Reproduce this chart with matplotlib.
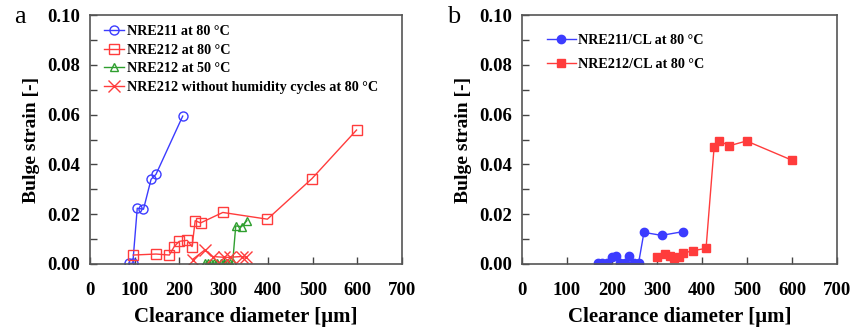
import matplotlib
matplotlib.use("Agg")
import matplotlib.pyplot as plt
from matplotlib.ticker import MultipleLocator

plt.rcParams['font.family'] = ['Liberation Serif', 'DejaVu Serif']

# panel a
nre211_x = [88, 96, 106, 120, 137, 148, 208]
nre211_y = [0.0003, 0.0003, 0.0224, 0.022, 0.034, 0.036, 0.0594]

nre212_x = [97, 148, 178, 189, 200, 218, 229, 236, 248, 298, 398, 498, 598]
nre212_y = [0.0036, 0.004, 0.0036, 0.007, 0.0091, 0.0095, 0.007, 0.0174,
            0.0165, 0.0207, 0.018, 0.0343, 0.0538]

nre212_50_x = [258, 265, 272, 279, 286, 293, 300, 307, 314, 320, 327, 340, 352]
nre212_50_y = [0.0004, 0.0004, 0.0004, 0.0004, 0.0004, 0.0004, 0.0004,
               0.0004, 0.0004, 0.0004, 0.0153, 0.015, 0.0174]

nohum_x = [230, 258, 275, 300, 313, 340, 350]
nohum_y = [0.0018, 0.0057, 0.003, 0.0027, 0.0027, 0.003, 0.0027]

# panel b
cl211_x = [168, 177, 188, 199, 209, 218, 229, 238, 249, 259, 271, 310, 358]
cl211_y = [0.0003, 0.0003, 0.0003, 0.0027, 0.0032, 0.0003, 0.0003, 0.0032,
           0.0003, 0.0003, 0.0127, 0.0115, 0.013]

cl212_x = [299, 318, 329, 338, 349, 357, 379, 409, 427, 438, 461, 499, 601]
cl212_y = [0.0028, 0.004, 0.0032, 0.0023, 0.0028, 0.0043, 0.0053, 0.0063,
           0.0471, 0.0494, 0.0475, 0.0494, 0.0416]

blue = '#3c3cff'
red = '#ff3c3c'
green = '#2f9f2f'

fig = plt.figure(figsize=(8.56, 3.3), dpi=100)
W, H = 856.0, 330.0
ax1 = fig.add_axes([90 / W, 66 / H, 312 / W, 249 / H])
ax2 = fig.add_axes([522 / W, 66 / H, 315 / W, 249 / H])

ax1.plot(nre211_x, nre211_y, '-o', color=blue, mfc='none', ms=6.5, lw=1,
         label='NRE211 at 80 \u00b0C')
ax1.plot(nre212_x, nre212_y, '-s', color=red, mfc='none', ms=6.5, lw=1,
         label='NRE212 at 80 \u00b0C')
ax1.plot(nre212_50_x, nre212_50_y, '-^', color=green, mfc='none', ms=6, lw=1,
         label='NRE212 at 50 \u00b0C')
ax1.plot(nohum_x, nohum_y, '-x', color=red, ms=8, lw=1,
         label='NRE212 without humidity cycles at 80 \u00b0C')

ax2.plot(cl211_x, cl211_y, '-o', color=blue, ms=6, lw=1,
         label='NRE211/CL at 80 \u00b0C')
ax2.plot(cl212_x, cl212_y, '-s', color=red, ms=6, lw=1,
         label='NRE212/CL at 80 \u00b0C')

for ax in (ax1, ax2):
    ax.set_xlim(0, 700)
    ax.set_ylim(0, 0.1)
    ax.xaxis.set_major_locator(MultipleLocator(100))
    ax.yaxis.set_major_locator(MultipleLocator(0.02))
    ax.yaxis.set_minor_locator(MultipleLocator(0.01))
    ax.tick_params(axis='both', which='both', direction='in', length=5,
                   width=1, color='#444444', labelsize=13.5)
    ax.tick_params(axis='x', pad=13)
    ax.tick_params(axis='y', pad=7)
    ax.tick_params(top=False, right=False)
    for lab in ax.get_xticklabels() + ax.get_yticklabels():
        lab.set_fontweight('bold')
    ax.yaxis.set_major_formatter(plt.FuncFormatter(lambda v, p: '%.2f' % v))
    for sp in ax.spines.values():
        sp.set_color('#555555')
        sp.set_linewidth(1.2)
    ax.set_xlabel('Clearance diameter [\u03bcm]', fontsize=15,
                  fontweight='bold', labelpad=6)
    ax.set_ylabel('Bulge strain [-]', fontsize=14, fontweight='bold',
                  labelpad=5)

ax1.legend(loc='upper left', bbox_to_anchor=(0.045, 0.96), frameon=False,
           borderpad=0, borderaxespad=0, handlelength=1.4, handletextpad=0.25,
           labelspacing=0.4, prop={'size': 10.2, 'weight': 'bold'})
ax2.legend(loc='upper left', bbox_to_anchor=(0.08, 0.925), frameon=False,
           borderpad=0, borderaxespad=0, handlelength=2.0, handletextpad=0.2,
           labelspacing=0.8, prop={'size': 10.2, 'weight': 'bold'})

fig.text(14 / W, 1 - 17 / H, 'a', fontsize=19, va='center', ha='left')
fig.text(447 / W, 1 - 17 / H, 'b', fontsize=19, va='center', ha='left')

fig.savefig('out.png', dpi=100)
